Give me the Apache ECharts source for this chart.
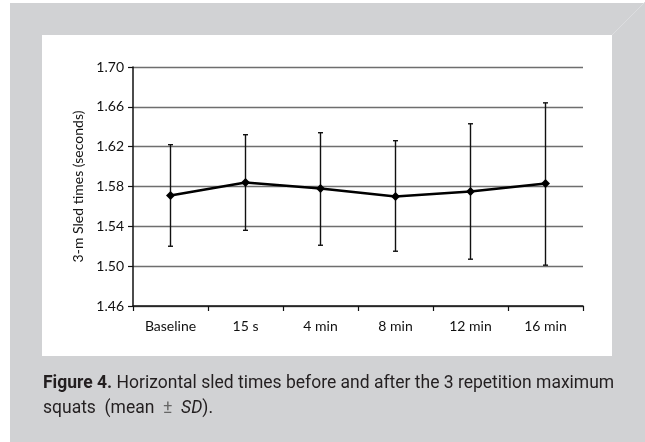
<!DOCTYPE html>
<html>
<head>
<meta charset="utf-8">
<script src="https://cdn.jsdelivr.net/npm/echarts@6/dist/echarts.min.js"></script>
<style>
  html, body { margin: 0; padding: 0; background: #fff; }
  #chart { width: 645px; height: 442px; }
</style>
</head>
<body>
<div id="chart"></div>
<script>
// time points after the squats
var categories = ['Baseline', '15 s', '4 min', '8 min', '12 min', '16 min']
// mean sled times (s)
var means = [1.571, 1.584, 1.578, 1.570, 1.575, 1.583]
// mean + SD and mean - SD (error bar ends)
var upper = [1.622, 1.632, 1.634, 1.626, 1.643, 1.664]
var lower = [1.520, 1.536, 1.521, 1.515, 1.507, 1.501]
// y axis ticks
var yMin = 1.46, yMax = 1.70, yStep = 0.04

var myChart = echarts.init(document.getElementById('chart'))

var barData = []
for (var i in categories) {
    barData.push([Number(i), lower[i], upper[i]])
}

myChart.setOption({
    animation: false,
    graphic: [
        // grey page + white figure panel
        { type: 'rect', z: -10, shape: { x: 10, y: 3, width: 635, height: 439 }, style: { fill: '#d1d2d4' } },
        { type: 'line', z: -9, shape: { x1: 612, y1: 35, x2: 645, y2: 2 }, style: { stroke: '#dcdddf', lineWidth: 1 } },
        { type: 'rect', z: -8, shape: { x: 42, y: 35, width: 570, height: 321 }, style: { fill: '#ffffff' } },
        {
            type: 'text', left: 43, top: 371,
            style: {
                text: '{b|Figure 4.} Horizontal sled times before and after the 3 repetition maximum\nsquats  (mean  {pm|±}  {i|SD}).',
                fontFamily: 'Roboto',
                fontSize: 17.5,
                lineHeight: 25,
                fill: '#231f20',
                rich: {
                    b: { fontWeight: 'bold', fontFamily: 'Roboto', fontSize: 17.5, fill: '#231f20' },
                    pm: { fontFamily: 'Roboto', fontSize: 17.5, fill: '#666' },
                    i: { fontStyle: 'italic', fontFamily: 'Roboto', fontSize: 17.5, fill: '#231f20' }
                }
            }
        }
    ],
    grid: {
        left: 133,
        top: 67,
        width: 450,
        height: 239
    },
    xAxis: {
        type: 'category',
        data: categories,
        boundaryGap: true,
        axisLine: { lineStyle: { color: '#111', width: 1.5 } },
        axisTick: { show: true, length: 5, lineStyle: { color: '#111', width: 1.2 } },
        axisLabel: { color: '#111', fontFamily: 'Lato', fontSize: 14, margin: 13 }
    },
    yAxis: {
        type: 'value',
        min: yMin,
        max: yMax,
        interval: yStep,
        name: '3-m Sled times (seconds)',
        nameLocation: 'middle',
        nameGap: 48,
        nameTextStyle: { color: '#111', fontFamily: 'Lato', fontSize: 14 },
        axisLine: { show: true, lineStyle: { color: '#111', width: 1.5 } },
        axisTick: { show: true, length: 5, lineStyle: { color: '#111', width: 1.2 } },
        axisLabel: {
            color: '#111', fontFamily: 'Lato', fontSize: 14, margin: 9,
            formatter: function (v) { return v.toFixed(2) }
        },
        splitLine: { lineStyle: { color: '#6e6e6e', width: 1.3 } }
    },
    series: [{
        type: 'custom',
        data: barData,
        z: 2,
        renderItem: function (params, api) {
            var top = api.coord([api.value(0), api.value(2)])
            var bot = api.coord([api.value(0), api.value(1)])
            var w = 2.5
            var st = { stroke: '#111', lineWidth: 1.4 }
            return {
                type: 'group',
                children: [
                    { type: 'line', shape: { x1: top[0], y1: top[1], x2: bot[0], y2: bot[1] }, style: st },
                    { type: 'line', shape: { x1: top[0] - w, y1: top[1], x2: top[0] + w, y2: top[1] }, style: st },
                    { type: 'line', shape: { x1: bot[0] - w, y1: bot[1], x2: bot[0] + w, y2: bot[1] }, style: st }
                ]
            }
        }
    }, {
        type: 'line',
        data: means,
        z: 3,
        symbol: 'diamond',
        symbolSize: 9,
        lineStyle: { color: '#000', width: 2.6 },
        itemStyle: { color: '#000' }
    }]
})
</script>
</body>
</html>
